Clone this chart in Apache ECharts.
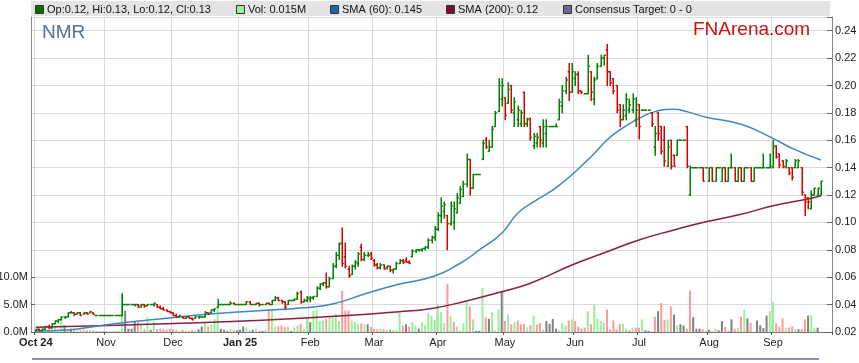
<!DOCTYPE html>
<html><head><meta charset="utf-8">
<script src="https://cdn.jsdelivr.net/npm/echarts@6/dist/echarts.min.js"></script>
<style>html,body{margin:0;padding:0;background:#fff}#c{width:859px;height:363px}</style>
</head><body><div id="c"></div>
<script>
// ---- month labels (trading-day index of first day of each month) ----
const monthLabels = ['Oct 24','Nov','Dec','Jan 25','Feb','Mar','Apr','May','Jun','Jul','Aug','Sep'];
const monthStartDay = [0,22,43,64,86,106,126,147,169,189,211,231];
const boldLabels = ['Oct 24','Jan 25'];

// ---- price ticks ----
const priceTicksMin = 0.02, priceTicksMax = 0.25, priceStep = 0.02;
const volTickLabels = [0, 5e6, 10e6];

// ---- OHLC (one value per trading day, Oct 2024 .. Sep 2025) ----
const open = [
 .021,.022,.021,.022,.024,.023,.026,.028,.029,.031,.031,.034,.034,.033,.034,.033,.034,.034,.034,.032,.032,.032,
 .032,.032,.032,.032,.032,.032,.040,.040,.040,.040,.040,.039,.040,.039,.040,.040,.040,.038,.037,.036,.035,
 .034,.032,.031,.031,.030,.031,.030,.030,.031,.031,.031,.034,.034,.036,.038,.040,.040,.040,.040,.041,.040,
 .040,.040,.040,.042,.040,.040,.041,.040,.040,.041,.040,.043,.045,.043,.042,.040,.043,.043,.044,.049,.042,.043,
 .044,.045,.046,.052,.055,.056,.053,.059,.068,.076,.085,.075,.066,.062,.068,.070,.082,.073,.076,.077,
 .072,.069,.067,.069,.067,.068,.065,.066,.070,.072,.072,.071,.075,.079,.080,.080,.081,.082,.087,.089,
 .095,.105,.108,.105,.099,.100,.107,.114,.119,.128,.146,.125,.135,.135,.146,.160,.152,.155,.170,.181,.190,
 .191,.187,.200,.180,.175,.172,.195,.172,.176,.156,.158,.170,.158,.165,.170,.170,.170,.175,.185,.196,.210,.195,
 .205,.208,.196,.194,.194,.210,.190,.205,.214,.220,.226,.210,.205,.200,.186,.175,.178,.182,.182,.175,
 .186,.182,.182,.182,.180,.155,.180,.170,.160,.141,.160,.149,.149,.160,.160,.170,.120,.140,.140,.140,.140,.140,
 .130,.140,.130,.140,.130,.140,.130,.140,.140,.130,.140,.130,.140,.140,.130,.140,.140,.140,.140,.140,
 .140,.156,.150,.145,.140,.140,.140,.140,.140,.140,.120,.118,.110,.120,.120,.120
];
const high = [
 .022,.022,.022,.024,.025,.026,.028,.029,.031,.031,.034,.035,.034,.034,.034,.034,.034,.035,.034,.032,.032,.032,
 .032,.032,.032,.032,.032,.048,.040,.040,.040,.040,.040,.040,.040,.040,.040,.041,.040,.039,.038,.036,.035,
 .034,.033,.032,.031,.031,.031,.030,.031,.031,.031,.035,.034,.036,.037,.044,.040,.040,.040,.042,.041,.040,
 .040,.040,.042,.042,.040,.041,.041,.040,.041,.041,.043,.046,.045,.043,.042,.043,.043,.044,.049,.050,.044,.046,
 .046,.046,.053,.055,.056,.063,.060,.070,.078,.085,.096,.085,.068,.069,.072,.078,.084,.078,.078,.078,
 .073,.070,.070,.069,.068,.068,.066,.071,.073,.073,.074,.072,.080,.080,.080,.081,.082,.088,.090,.097,
 .107,.118,.115,.105,.115,.115,.121,.126,.130,.150,.146,.135,.135,.135,.160,.162,.160,.170,.181,.205,.205,
 .191,.202,.200,.191,.185,.182,.195,.176,.176,.165,.165,.170,.175,.175,.170,.170,.172,.190,.200,.206,.216,.216,
 .210,.210,.196,.194,.222,.210,.206,.216,.222,.222,.230,.210,.205,.200,.186,.186,.194,.190,.194,.191,
 .186,.182,.182,.182,.180,.170,.180,.170,.170,.160,.160,.149,.160,.160,.160,.170,.141,.140,.140,.140,.140,.140,
 .140,.140,.140,.140,.140,.140,.140,.150,.140,.140,.140,.140,.140,.140,.140,.140,.140,.150,.140,.150,
 .160,.156,.150,.145,.146,.140,.140,.146,.146,.140,.120,.118,.123,.125,.125,.130
];
const low = [
 .021,.021,.021,.022,.023,.023,.026,.027,.029,.030,.031,.034,.032,.033,.032,.033,.033,.034,.033,.032,.032,.032,
 .032,.032,.032,.032,.032,.032,.040,.040,.040,.039,.038,.038,.038,.039,.040,.039,.038,.037,.036,.035,.034,
 .032,.031,.031,.030,.030,.030,.029,.030,.030,.031,.031,.033,.034,.035,.038,.040,.040,.040,.040,.040,.040,
 .040,.040,.040,.040,.040,.040,.039,.040,.040,.040,.040,.043,.043,.041,.037,.040,.043,.043,.044,.041,.042,.042,
 .042,.044,.046,.051,.054,.052,.053,.059,.067,.073,.068,.067,.060,.062,.066,.068,.072,.072,.075,.073,
 .068,.066,.066,.066,.066,.064,.063,.066,.070,.070,.071,.070,.075,.078,.079,.079,.080,.081,.085,.087,
 .094,.100,.103,.080,.098,.095,.107,.114,.119,.126,.120,.125,.135,.135,.146,.154,.152,.155,.170,.181,.185,
 .175,.187,.180,.170,.170,.170,.170,.170,.160,.154,.155,.155,.155,.155,.170,.170,.170,.175,.180,.194,.189,.195,
 .200,.194,.194,.194,.194,.189,.186,.205,.214,.215,.200,.200,.194,.180,.170,.175,.175,.180,.180,.170,
 .161,.182,.182,.182,.170,.149,.160,.150,.141,.141,.139,.141,.149,.160,.160,.140,.120,.140,.140,.140,.130,.140,
 .130,.130,.130,.140,.130,.130,.130,.140,.130,.130,.130,.130,.140,.130,.130,.140,.140,.140,.140,.140,
 .140,.147,.140,.140,.140,.135,.131,.140,.140,.120,.105,.110,.110,.120,.120,.120
];
const close = [
 .022,.021,.022,.024,.023,.026,.028,.029,.031,.031,.034,.034,.033,.034,.032,.034,.033,.035,.033,.032,.032,.032,
 .032,.032,.032,.032,.032,.040,.040,.040,.040,.040,.038,.040,.039,.040,.040,.041,.038,.037,.036,.035,.034,
 .032,.031,.032,.030,.031,.030,.029,.031,.031,.031,.034,.033,.036,.037,.040,.040,.040,.040,.041,.040,.040,
 .040,.040,.042,.040,.040,.041,.040,.040,.041,.040,.043,.045,.043,.042,.038,.043,.043,.044,.048,.042,.043,.045,
 .045,.046,.052,.055,.056,.053,.059,.068,.076,.084,.070,.068,.061,.068,.071,.077,.073,.076,.076,.074,
 .069,.067,.069,.066,.068,.065,.066,.070,.072,.071,.071,.070,.079,.080,.080,.081,.082,.087,.089,.095,
 .105,.112,.113,.099,.112,.110,.118,.124,.128,.146,.125,.135,.135,.135,.158,.155,.155,.168,.180,.200,.200,
 .178,.197,.182,.188,.182,.180,.172,.175,.162,.163,.162,.160,.170,.170,.170,.170,.170,.188,.196,.204,.195,.210,
 .208,.196,.195,.194,.214,.195,.204,.214,.220,.222,.210,.202,.196,.182,.175,.182,.190,.186,.190,.182,
 .170,.182,.182,.182,.172,.165,.165,.152,.145,.155,.141,.141,.160,.160,.160,.141,.140,.140,.140,.140,.130,.140,
 .140,.130,.140,.140,.140,.130,.140,.140,.130,.140,.130,.140,.140,.130,.140,.140,.140,.140,.140,.141,
 .155,.148,.142,.141,.145,.136,.133,.145,.145,.122,.115,.115,.120,.125,.125,.130
];
// ---- volume, millions of shares ----
const volumeM = [
 0.3,0.2,0.5,0.4,1.0,0.5,0.9,0.4,2.4,1.2,0.4,0.6,0.5,0.3,0.4,0.5,0.3,0.4,0.3,0.2,0.1,0.1,
 0.1,0.1,0.1,0.1,0.1,6.8,3.9,0.6,0.6,1.9,1.8,1.5,0.5,2.7,0.4,1.9,0.5,0.6,0.5,0.4,0.6,
 0.5,0.4,0.2,0.4,0.3,0.2,0.4,0.3,0.5,1.0,1.8,1.0,1.4,2.4,4.8,0.6,0.4,0.2,0.6,0.3,0.3,
 0.4,1.0,0.8,0.3,0.4,0.6,0.3,0.2,0.4,4.2,4.1,1.0,1.0,1.2,0.9,1.0,0.2,0.8,1.2,1.5,0.5,2.7,
 1.8,3.9,4.1,2.0,2.1,2.4,2.7,2.7,3.3,2.0,7.5,3.9,3.9,2.1,1.9,1.5,1.6,1.4,1.4,0.9,
 0.6,0.5,0.6,0.5,0.4,0.5,0.4,0.3,3.5,1.2,1.4,1.0,1.8,1.2,0.6,1.8,1.2,3.5,3.0,2.2,
 5.0,3.6,1.6,8.8,3.0,1.8,1.0,0.3,1.6,5.5,4.7,2.3,0.2,0.2,8.0,2.7,2.4,3.6,0.3,4.1,7.5,
 2.0,3.2,1.4,1.8,2.1,1.4,1.4,0.8,1.2,3.0,1.4,1.6,0.5,2.0,1.5,2.4,0.6,0.3,1.6,1.2,2.1,2.3,
 2.0,1.0,0.6,0.8,3.8,1.4,5.0,2.4,2.0,1.7,4.1,0.5,2.1,0.4,1.5,1.5,0.6,0.4,0.8,0.8,
 0.8,2.3,0.3,0.2,0.1,2.8,3.8,5.3,2.2,2.3,4.7,3.2,1.2,1.4,1.2,0.6,7.6,2.7,0.6,0.6,0.5,0.3,
 0.4,0.1,0.6,0.3,2.0,0.9,0.3,2.3,0.6,0.7,2.8,4.1,2.5,1.7,0.1,2.1,1.2,0.7,3.0,3.8,
 5.5,1.6,0.9,2.5,0.7,0.8,1.0,0.6,0.5,0.5,2.3,3.0,3.0,0.7,0.8,0.015
];
// ---- moving averages, read at sampled trading days ----
const sma60Day = [0,10,20,30,41,51,62,72,83,93,104,114,125,133,139,146,151,156,164,174,179,183,189,194,200,204,210,221,231,237,246];
const sma60 = [.0207,.0215,.0246,.0275,.0300,.0324,.0344,.0358,.0375,.0404,.0485,.0550,.0609,.0702,.0799,.0921,.1067,.1151,.1270,.1480,.1602,.1675,.1760,.1809,.1826,.1809,.1768,.1717,.1614,.1541,.1456];
const sma200Day = [0,20,51,83,114,124,134,146,155,168,179,189,200,210,221,231,242,246];
const sma200 = [.0234,.0246,.0268,.0300,.0348,.0372,.0421,.0494,.0556,.0689,.0786,.0872,.0945,.1005,.1059,.1122,.1171,.1195];

// ---- legend texts ----
const legendItems = [
  {text:'Op:0.12, Hi:0.13, Lo:0.12, Cl:0.13', color:'#007000', x:35},
  {text:'Vol: 0.015M', color:'#99f099', x:236},
  {text:'SMA (60): 0.145', color:'#1f65a8', x:330},
  {text:'SMA (200): 0.12', color:'#7a1030', x:446},
  {text:'Consensus Target: 0 - 0', color:'#6a6a9a', x:563}
];

// ---- build ----
const LEAD = 1, TOTAL = 251;
const cats = [];
for (let i = 0; i < TOTAL; i++) cats.push(String(i));
const monthCat = {};
monthStartDay.forEach((d, k) => { monthCat[d + LEAD] = monthLabels[k]; });

const ohlc = open.map((o, i) => [i + LEAD, o, high[i], low[i], close[i]]);
const vol = volumeM.map((v, i) => {
  const prev = i > 0 ? close[i - 1] : close[i];
  const col = close[i] > prev ? '#99f099' : (close[i] < prev ? '#ff9a9a' : '#808080');
  return {value: [i + LEAD, v * 1e6], itemStyle: {color: col}};
});
const s60 = sma60Day.map((d, k) => [d + LEAD, sma60[k]]);
const s200 = sma200Day.map((d, k) => [d + LEAD, sma200[k]]);

const FONT = 'Arial, "Liberation Sans", sans-serif';
const chart = echarts.init(document.getElementById('c'), null, {renderer: 'canvas'});

const graphics = [
  {type:'rect', left:31, top:1, shape:{width:799, height:15}, style:{fill:'#e4e4e4'}, z:100},
  {type:'text', left:42, top:23, style:{text:'NMR', font:'19px ' + FONT, fill:'#5b7190'}, z:100},
  {type:'text', left:693, top:20, style:{text:'FNArena.com', font:'19px ' + FONT, fill:'#cc1111'}, z:100},
  {type:'rect', left:32, top:358, shape:{width:787, height:2}, style:{fill:'#8d8dba'}, z:100}
];
legendItems.forEach(it => {
  graphics.push({type:'rect', left:it.x, top:5, shape:{width:8, height:8}, style:{fill:it.color, stroke:'#333', lineWidth:1}, z:101});
  graphics.push({type:'text', left:it.x + 12, top:3, style:{text:it.text, font:'11px ' + FONT, fill:'#111', lineHeight:13}, z:101});
});

chart.setOption({
  animation: false,
  backgroundColor: '#fff',
  grid: {left:31, right:27, top:17, bottom:31, containLabel:false, outerBoundsMode:'none'},
  graphic: graphics,
  xAxis: {
    type:'category', data: cats, boundaryGap: true,
    axisLine:{show:true, lineStyle:{color:'#777'}},
    axisTick:{show:true, length:3, interval:(i) => monthCat[i] !== undefined, lineStyle:{color:'#555'}},
    axisLabel:{
      interval: (i) => monthCat[i] !== undefined,
      formatter: (v) => { const t = monthCat[+v] || ''; return boldLabels.includes(t) ? '{b|' + t + '}' : t; },
      margin: 5, fontSize: 11, color: '#222', fontFamily: FONT,
      rich: {b: {fontWeight:'bold', fontSize:11, color:'#222', fontFamily: FONT}}
    },
    splitLine:{show:true, interval:(i) => monthCat[i] !== undefined, lineStyle:{color:'#d9d9d9', width:1}}
  },
  yAxis: [
    {
      type:'value', position:'right', min: priceTicksMin, max: priceTicksMax, interval: priceStep,
      axisLine:{show:true, lineStyle:{color:'#888'}},
      axisTick:{show:true, inside:true, length:5, lineStyle:{color:'#666'}},
      axisLabel:{formatter: v => v > 0.245 ? '' : v.toFixed(2), margin:3, fontSize:11, color:'#222', fontFamily:FONT},
      splitLine:{show:true, lineStyle:{color:'#d9d9d9'}}
    },
    {
      type:'value', position:'left', min:0, max:57.5e6, interval:5e6,
      axisLine:{show:true, lineStyle:{color:'#888'}},
      axisTick:{show:true, inside:true, length:4, lineStyle:{color:'#666'}, customValues: volTickLabels},
      axisLabel:{customValues: volTickLabels, formatter: v => v > 10.5e6 ? '' : (v / 1e6).toFixed(1) + 'M', margin:3, fontSize:11, color:'#222', fontFamily:FONT},
      splitLine:{show:false}
    }
  ],
  series: [
    {type:'bar', yAxisIndex:1, data: vol, barWidth:2, z:1, silent:true},
    {type:'line', yAxisIndex:0, data: s200, smooth:true, showSymbol:false, lineStyle:{color:'#8a1f45', width:1.5}, z:3, silent:true},
    {type:'line', yAxisIndex:0, data: s60, smooth:true, showSymbol:false, lineStyle:{color:'#3a88c8', width:1.5}, z:3, silent:true},
    {
      type:'custom', yAxisIndex:0, data: ohlc, z:5, silent:true,
      encode:{x:0, y:[1,2,3,4]},
      renderItem: (params, api) => {
        const x = api.value(0), o = api.value(1), h = api.value(2), l = api.value(3), c = api.value(4);
        const ph = api.coord([x, h]), pl = api.coord([x, l]), po = api.coord([x, o]), pc = api.coord([x, c]);
        const half = api.size([1, 0])[0] * 0.5;
        const col = c >= o ? '#008000' : '#dd0000';
        const st = {stroke: col, lineWidth: 1.5};
        const cx = Math.round(ph[0]) + 0.25;
        return {type:'group', children:[
          {type:'line', shape:{x1:cx, y1:ph[1] - 0.5, x2:cx, y2:pl[1] + 0.5}, style:st},
          {type:'line', shape:{x1:cx - half, y1:po[1], x2:cx, y2:po[1]}, style:st},
          {type:'line', shape:{x1:cx, y1:pc[1], x2:cx + half, y2:pc[1]}, style:st}
        ]};
      }
    }
  ]
});
</script>
</body></html>
